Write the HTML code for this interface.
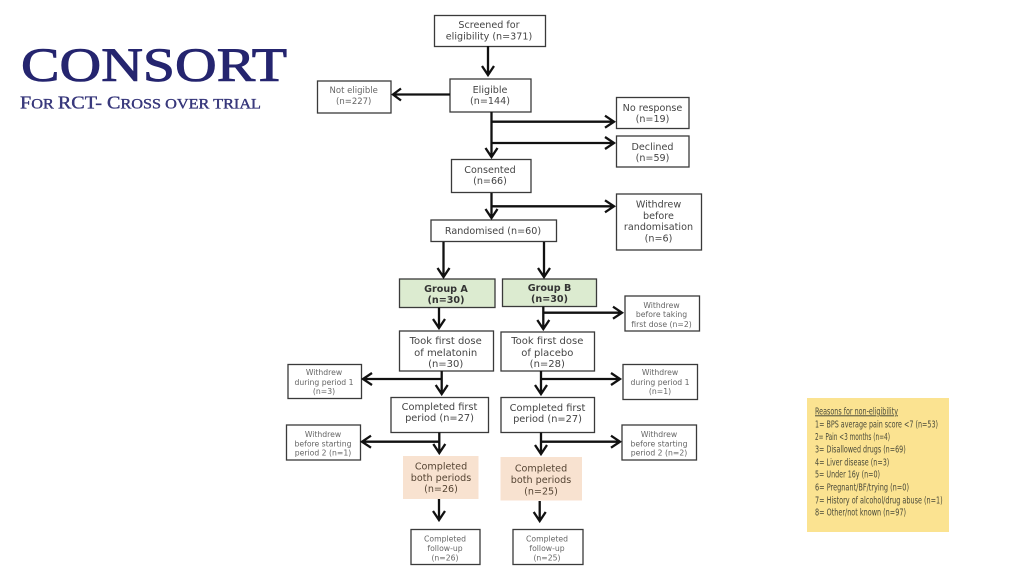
<!DOCTYPE html>
<html><head><meta charset="utf-8"><style>
html,body{margin:0;padding:0;background:#fff;width:1024px;height:576px;overflow:hidden}
svg{display:block}
.b{fill:#fff;stroke:#3a3a3a;stroke-width:1.3}
.g{fill:#dcebd0;stroke:#3a3a3a;stroke-width:1.3}
.p{fill:#f8e2d0;stroke:none}
.l{fill:none;stroke:#111;stroke-width:2.3}
text{font-family:"DejaVu Sans","Liberation Sans",sans-serif}
.m text,.m{font-size:9.6px;fill:#444;text-anchor:middle}
.s{font-size:7.7px;fill:#666;text-anchor:middle}
.d{font-size:9.6px;font-weight:bold;fill:#333;text-anchor:middle}
.y{font-size:10px;fill:#4a4a3a}
.t{font-family:"Liberation Serif",serif;fill:#25256f;stroke:#25256f}
.soft{filter:blur(.3px)}
</style></head><body>
<svg width="1024" height="576" viewBox="0 0 1024 576" xmlns="http://www.w3.org/2000/svg">
<text class="t" x="21" y="81" font-size="48" stroke-width=".9" textLength="266" lengthAdjust="spacingAndGlyphs">CONSORT</text>
<text class="t" x="20" y="108.500" font-size="14.500" stroke-width=".35" fill-opacity=".9" textLength="241" lengthAdjust="spacingAndGlyphs"><tspan font-size="18">F</tspan>OR <tspan font-size="18">RCT- C</tspan>ROSS OVER TRIAL</text>

<rect class="b" x="434.500" y="15.500" width="111" height="31"/>
<rect class="b" x="450" y="79" width="81" height="33"/>
<rect class="b" x="317.500" y="81" width="73.500" height="32"/>
<rect class="b" x="616.500" y="97.500" width="72.500" height="31"/>
<rect class="b" x="616.500" y="136" width="72.500" height="31"/>
<rect class="b" x="451.500" y="159.500" width="79.500" height="33"/>
<rect class="b" x="616.500" y="194" width="85" height="56"/>
<rect class="b" x="431" y="220" width="125.500" height="21.500"/>
<rect class="g" x="399.500" y="279" width="95.500" height="28.500"/>
<rect class="g" x="502.500" y="279" width="94" height="27.500"/>
<rect class="b" x="625" y="296" width="74.500" height="35"/>
<rect class="b" x="399.500" y="331" width="94" height="40"/>
<rect class="b" x="501" y="332" width="93.500" height="39"/>
<rect class="b" x="288" y="364.500" width="73.500" height="34"/>
<rect class="b" x="623" y="364.500" width="74.500" height="35"/>
<rect class="b" x="391" y="397.500" width="97.500" height="35"/>
<rect class="b" x="501" y="397.500" width="93.500" height="35"/>
<rect class="b" x="286.500" y="425" width="74" height="35"/>
<rect class="b" x="622" y="425" width="74.500" height="35"/>
<rect class="p" x="403" y="456" width="75.500" height="43"/>
<rect class="p" x="500.500" y="457" width="81.500" height="43.500"/>
<rect class="b" x="411" y="529.500" width="69" height="35"/>
<rect class="b" x="513" y="529.500" width="70" height="35"/>

<g class="l">
<path d="M488 46V75M482 66l6 9 6-9"/>
<path d="M450 94.500H393M401 88.500l-8 6 8 6"/>
<path d="M491.500 112V157M485.500 148l6 9 6-9"/>
<path d="M491.500 121.700H614M605 115.700l9 6-9 6"/>
<path d="M491.500 143H614M605 137l9 6-9 6"/>
<path d="M491.500 193V218M485.500 209l6 9 6-9"/>
<path d="M491.500 206.300H614M605 200.300l9 6-9 6"/>
<path d="M443.500 242V277M437.500 268l6 9 6-9"/>
<path d="M544 242V277M538 268l6 9 6-9"/>
<path d="M439 307.500V328M433 319l6 9 6-9"/>
<path d="M543.300 306.500V329M537.300 320l6 9 6-9"/>
<path d="M543.300 312.700H622M613 306.700l9 6-9 6"/>
<path d="M441.700 371V393.500M435.700 385l6 9 6-9"/>
<path d="M441.700 379H363M372 373l-9 6 9 6"/>
<path d="M541 371V393.500M535 385l6 9 6-9"/>
<path d="M541 379H620M611 373l9 6-9 6"/>
<path d="M439.300 432.500V453M433.300 444l6 9 6-9"/>
<path d="M439.300 441.700H362M371 435.700l-9 6 9 6"/>
<path d="M541 432.500V453.500M535 445l6 9 6-9"/>
<path d="M541 441.700H620M611 435.700l9 6-9 6"/>
<path d="M439 499V520M433 511l6 9 6-9"/>
<path d="M539.700 501V521M533.700 512l6 9 6-9"/>
</g>

<g class="m soft">
<text x="489" y="28">Screened for</text><text x="489" y="39.500">eligibility (n=371)</text>
<text x="490" y="93">Eligible</text><text x="490" y="104">(n=144)</text>
<text x="353.700" y="93" style="font-size:8.500px;fill:#666">Not eligible</text><text x="353.700" y="104" style="font-size:8.500px;fill:#666">(n=227)</text>
<text x="652.500" y="111">No response</text><text x="652.500" y="122">(n=19)</text>
<text x="652.500" y="150">Declined</text><text x="652.500" y="161">(n=59)</text>
<text x="490" y="173">Consented</text><text x="490" y="184">(n=66)</text>
<text x="658.500" y="207.500">Withdrew</text><text x="658.500" y="219">before</text><text x="658.500" y="230">randomisation</text><text x="658.500" y="241.500">(n=6)</text>
<text x="493" y="234">Randomised (n=60)</text>
<text x="445.700" y="344" style="font-size:10px">Took first dose</text><text x="445.700" y="356" style="font-size:10px">of melatonin</text><text x="445.700" y="367" style="font-size:10px">(n=30)</text>
<text x="547.300" y="344" style="font-size:10px">Took first dose</text><text x="547.300" y="356" style="font-size:10px">of placebo</text><text x="547.300" y="367" style="font-size:10px">(n=28)</text>
<text x="439.500" y="410" style="font-size:9.800px">Completed first</text><text x="439.500" y="421" style="font-size:9.800px">period (n=27)</text>
<text x="547.500" y="411" style="font-size:9.800px">Completed first</text><text x="547.500" y="422" style="font-size:9.800px">period (n=27)</text>
<text x="441" y="469.500" style="fill:#543">Completed</text><text x="441" y="481" style="fill:#543">both periods</text><text x="441" y="492" style="fill:#543">(n=26)</text>
<text x="541" y="471.500" style="fill:#543">Completed</text><text x="541" y="483" style="fill:#543">both periods</text><text x="541" y="494.500" style="fill:#543">(n=25)</text>
</g>
<g class="soft">
<text class="d" x="446" y="292">Group A</text><text class="d" x="446" y="303">(n=30)</text>
<text class="d" x="549.500" y="291">Group B</text><text class="d" x="549.500" y="302">(n=30)</text>

<text class="s" x="661.500" y="308">Withdrew</text><text class="s" x="661.500" y="317">before taking</text><text class="s" x="661.500" y="327">first dose (n=2)</text>
<text class="s" x="324" y="375">Withdrew</text><text class="s" x="324" y="385">during period 1</text><text class="s" x="324" y="394">(n=3)</text>
<text class="s" x="660" y="375">Withdrew</text><text class="s" x="660" y="385">during period 1</text><text class="s" x="660" y="394">(n=1)</text>
<text class="s" x="323" y="437">Withdrew</text><text class="s" x="323" y="446.500">before starting</text><text class="s" x="323" y="455.500">period 2 (n=1)</text>
<text class="s" x="659" y="437">Withdrew</text><text class="s" x="659" y="446.500">before starting</text><text class="s" x="659" y="455.500">period 2 (n=2)</text>
<text class="s" x="445" y="541.500">Completed</text><text class="s" x="445" y="551">follow-up</text><text class="s" x="445" y="560.500">(n=26)</text>
<text class="s" x="547" y="541.500">Completed</text><text class="s" x="547" y="551">follow-up</text><text class="s" x="547" y="560.500">(n=25)</text>
</g>

<rect x="807" y="398" width="142" height="134" fill="#fbe391"/>
<g class="y soft">
<text x="815" y="414.300" textLength="83" lengthAdjust="spacingAndGlyphs" text-decoration="underline">Reasons for non-eligibility</text>
<text x="815" y="427.300" textLength="123" lengthAdjust="spacingAndGlyphs">1= BPS average pain score &lt;7 (n=53)</text>
<text x="815" y="440" textLength="75" lengthAdjust="spacingAndGlyphs">2= Pain &lt;3 months (n=4)</text>
<text x="815" y="452.300" textLength="90.700" lengthAdjust="spacingAndGlyphs">3= Disallowed drugs (n=69)</text>
<text x="815" y="465.300" textLength="74.300" lengthAdjust="spacingAndGlyphs">4= Liver disease (n=3)</text>
<text x="815" y="477.300" textLength="65" lengthAdjust="spacingAndGlyphs">5= Under 16y (n=0)</text>
<text x="815" y="490.700" textLength="94" lengthAdjust="spacingAndGlyphs">6= Pregnant/BF/trying (n=0)</text>
<text x="815" y="503.300" textLength="127.700" lengthAdjust="spacingAndGlyphs">7= History of alcohol/drug abuse (n=1)</text>
<text x="815" y="515.300" textLength="91" lengthAdjust="spacingAndGlyphs">8= Other/not known (n=97)</text>
</g>
</svg>
</body></html>
